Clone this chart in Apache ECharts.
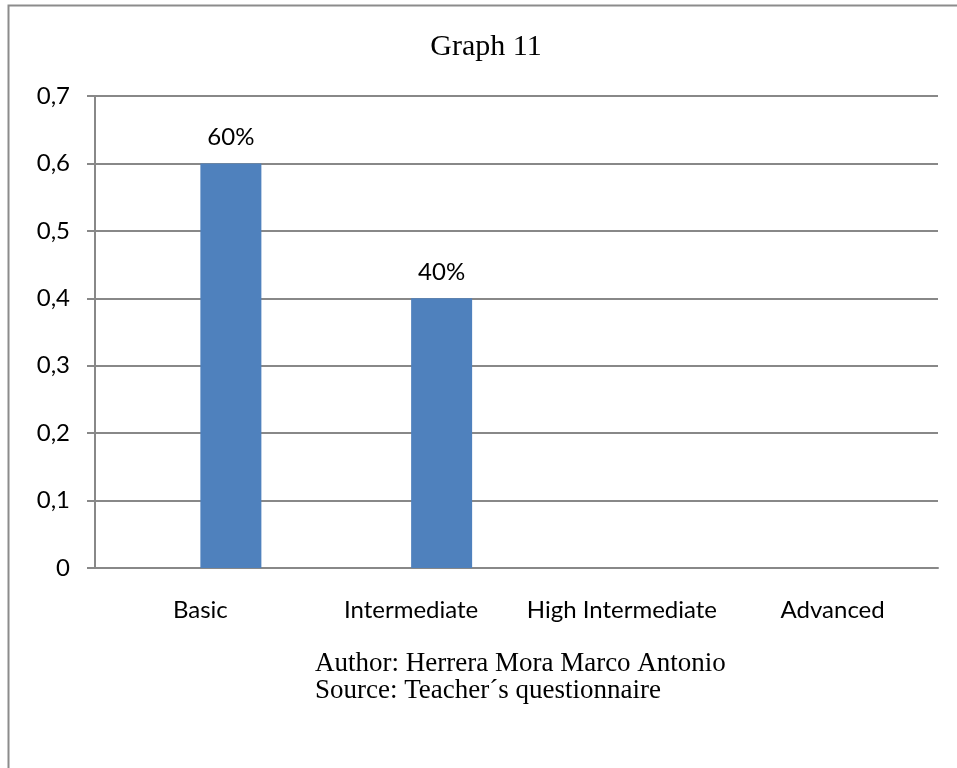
<!DOCTYPE html>
<html>
<head>
<meta charset="utf-8">
<script src="https://cdn.jsdelivr.net/npm/echarts@6/dist/echarts.min.js"></script>
<style>
  html, body { margin: 0; padding: 0; background: #fff; }
  #chart { width: 957px; height: 768px; }
</style>
</head>
<body>
<div id="chart"></div>
<script>
// Proficiency levels and their shares
const categories = ['Basic', 'Intermediate', 'High Intermediate', 'Advanced'];
const shares = [0.6, 0.4, 0, 0];
// Empty companion series: occupies the left slot of each category pair
const companion = [null, null, null, null];
const yTicks = { min: 0, max: 0.7, step: 0.1 };
const titleText = 'Graph 11';
const footerLines = ['Author: Herrera Mora Marco Antonio', 'Source: Teacher\u00b4s questionnaire'];

const chart = echarts.init(document.getElementById('chart'), null, { renderer: 'canvas' });
const labelFont = 'Lato, "Open Sans", sans-serif';
const serif = '"Liberation Serif", "DejaVu Serif", serif';

chart.setOption({
  animation: false,
  grid: { left: 95, right: 19, top: 96, bottom: 200, containLabel: false },
  xAxis: {
    type: 'category',
    data: categories,
    axisLine: { lineStyle: { color: '#888', width: 2 } },
    axisTick: { show: false },
    axisLabel: { interval: 0, hideOverlap: false, color: '#000', fontFamily: labelFont, fontSize: 24, margin: 30 }
  },
  yAxis: {
    type: 'value',
    min: yTicks.min,
    max: yTicks.max,
    interval: yTicks.step,
    axisLine: { show: true, lineStyle: { color: '#888', width: 2 } },
    axisTick: { show: true, length: 8, lineStyle: { color: '#888', width: 2 } },
    splitLine: { lineStyle: { color: '#888', width: 2 } },
    axisLabel: {
      color: '#000', fontFamily: labelFont, fontSize: 24, margin: 25,
      formatter: v => (Math.round(v * 10) / 10).toString().replace('.', ',')
    }
  },
  series: [
    {
      type: 'bar',
      data: companion,
      barWidth: 61,
      barGap: '0%',
      itemStyle: { color: '#c0504d' }
    },
    {
      type: 'bar',
      data: shares,
      barWidth: 61,
      barGap: '0%',
      itemStyle: { color: '#4f81bd' },
      label: {
        show: true,
        position: 'top',
        distance: 14,
        color: '#000',
        fontFamily: labelFont,
        fontSize: 24,
        formatter: p => p.value > 0 ? Math.round(p.value * 100) + '%' : ''
      }
    }
  ],
  graphic: [
    {
      type: 'rect',
      shape: { x: 8.5, y: 5.5, width: 1200, height: 1200 },
      style: { fill: 'none', stroke: '#8c8c8c', lineWidth: 2 },
      silent: true
    },
    {
      type: 'text',
      x: 486,
      y: 47,
      style: {
        text: titleText,
        fontFamily: serif,
        fontSize: 30,
        fill: '#000',
        align: 'center',
        verticalAlign: 'middle'
      }
    },
    {
      type: 'text',
      x: 315,
      y: 650,
      style: {
        text: footerLines.join('\n'),
        fontFamily: serif,
        fontSize: 27,
        lineHeight: 27,
        fill: '#000',
        verticalAlign: 'top'
      }
    }
  ]
});
</script>
</body>
</html>
